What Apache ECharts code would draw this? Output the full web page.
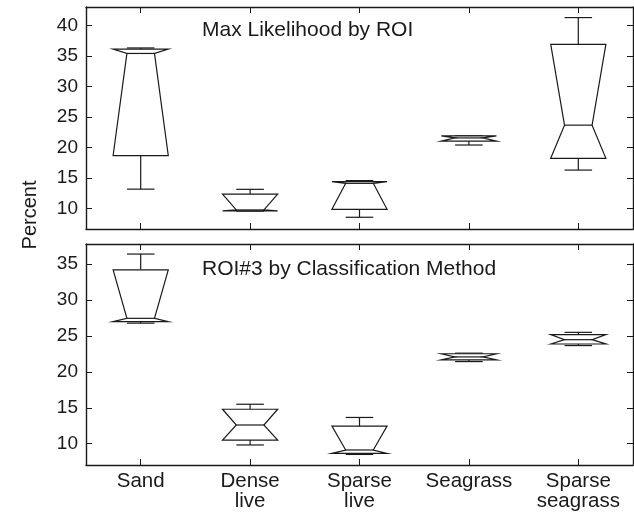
<!DOCTYPE html>
<html><head><meta charset="utf-8">
<script src="https://cdn.jsdelivr.net/npm/echarts@6/dist/echarts.min.js"></script>
<style>html,body{margin:0;padding:0;background:#fff}#c{width:634px;height:512px}</style>
</head><body><div id="c"></div>
<script>
const categories = ['Sand', 'Dense\nlive', 'Sparse\nlive', 'Seagrass', 'Sparse\nseagrass'];
const topTitle = 'Max Likelihood by ROI';
const bottomTitle = 'ROI#3 by Classification Method';
const yName = 'Percent';

// Top panel: Max Likelihood by ROI
const topLowerWhisker = [13.2, 9.6, 8.6, 20.42, 16.32];
const topQ1           = [18.7, 9.65, 9.9, 21.07, 18.24];
const topMedian       = [35.4, 9.8, 14.15, 21.58, 23.67];
const topQ3           = [36.1, 12.4, 14.42, 21.92, 36.9];
const topUpperWhisker = [36.3, 13.17, 14.6, 21.95, 41.27];

// Bottom panel: ROI#3 by Classification Method
const botLowerWhisker = [26.78, 9.82, 8.5, 21.43, 23.66];
const botQ1           = [27.0, 10.5, 8.66, 21.68, 23.88];
const botMedian       = [27.45, 12.6, 9.12, 22.08, 24.48];
const botQ3           = [34.2, 14.79, 12.45, 22.52, 25.18];
const botUpperWhisker = [36.4, 15.49, 13.65, 22.6, 25.5];

const topTicks = [10, 15, 20, 25, 30, 35, 40];
const bottomTicks = [10, 15, 20, 25, 30, 35];

function rows(lw, q1, med, q3, uw) {
  return categories.map((c, i) => [i, lw[i], q1[i], med[i], q3[i], uw[i]]);
}

const INK = '#1a1a1a';
const FONT = 'Liberation Sans, Arial, Helvetica, sans-serif';

function renderBox(params, api) {
  const i = api.value(0);
  const lw = api.value(1), q1 = api.value(2), med = api.value(3), q3 = api.value(4), uw = api.value(5);
  const band = api.size([1, 0])[0];
  const half = band * 0.252;
  const x = api.coord([i, med])[0];
  const y = v => api.coord([i, v])[1];
  const yq1 = y(q1), ym = y(med), yq3 = y(q3), ylw = y(lw), yuw = y(uw);
  const st = { stroke: INK, lineWidth: 1.2, fill: null };
  const capH = half / 2;
  return {
    type: 'group',
    children: [
      { type: 'line', shape: { x1: x, y1: yq3, x2: x, y2: yuw }, style: st },
      { type: 'line', shape: { x1: x, y1: yq1, x2: x, y2: ylw }, style: st },
      { type: 'line', shape: { x1: x - capH, y1: yuw, x2: x + capH, y2: yuw }, style: st },
      { type: 'line', shape: { x1: x - capH, y1: ylw, x2: x + capH, y2: ylw }, style: st },
      { type: 'polygon', shape: { points: [
          [x - half, yq1], [x - half / 2, ym], [x - half, yq3],
          [x + half, yq3], [x + half / 2, ym], [x + half, yq1]] },
        style: { stroke: INK, lineWidth: 1.2, fill: '#fff' } },
      { type: 'line', shape: { x1: x - half / 2, y1: ym, x2: x + half / 2, y2: ym }, style: st }
    ]
  };
}

const axisLine = { show: true, lineStyle: { color: INK, width: 1.4 } };
const tick = { show: true, inside: true, length: 6, lineStyle: { color: INK, width: 1 } };
const labelStyle = { color: '#1a1a1a', fontFamily: FONT, fontSize: 19 };

function xAxisFor(gridIndex, position, showLabels) {
  return {
    type: 'category', gridIndex, position, data: categories,
    boundaryGap: true,
    axisLine, axisTick: Object.assign({ alignWithLabel: true, interval: 0 }, tick),
    axisLabel: Object.assign({}, labelStyle, { show: showLabels, interval: 0, margin: 6, lineHeight: 20, fontSize: 20.5 }),
    splitLine: { show: false }
  };
}
function yAxisFor(gridIndex, position, min, max, ticks, showLabels) {
  return {
    type: 'value', gridIndex, position, min, max,
    axisLine, axisTick: Object.assign({ customValues: ticks }, tick),
    axisLabel: Object.assign({ show: showLabels, customValues: ticks, margin: 8 }, labelStyle),
    splitLine: { show: false }
  };
}

const titleStyle = { fontFamily: FONT, fontSize: 21, fontWeight: 'normal', color: '#1a1a1a' };

const chart = echarts.init(document.getElementById('c'));
chart.setOption({
  backgroundColor: '#fff',
  animation: false,
  grid: [
    { left: 86, right: 1, top: 7, height: 222 },
    { left: 86, right: 1, top: 244, height: 221 }
  ],
  xAxis: [
    xAxisFor(0, 'bottom', false),
    xAxisFor(0, 'top', false),
    xAxisFor(1, 'bottom', true),
    xAxisFor(1, 'top', false)
  ],
  yAxis: [
    yAxisFor(0, 'left', 6.68, 43, topTicks, true),
    yAxisFor(0, 'right', 6.68, 43, topTicks, false),
    yAxisFor(1, 'left', 7.03, 37.8, bottomTicks, true),
    yAxisFor(1, 'right', 7.03, 37.8, bottomTicks, false)
  ],
  title: [
    { text: topTitle, left: 202, top: 20, textStyle: titleStyle, padding: 0 },
    { text: bottomTitle, left: 202, top: 259, textStyle: titleStyle, padding: 0 }
  ],
  graphic: [
    { type: 'text', x: 20, y: 215, rotation: Math.PI / 2,
      style: { text: yName, fontFamily: FONT, fontSize: 20, fill: '#1a1a1a', textAlign: 'center', textVerticalAlign: 'top' } }
  ],
  series: [
    { type: 'custom', xAxisIndex: 0, yAxisIndex: 0, renderItem: renderBox,
      data: rows(topLowerWhisker, topQ1, topMedian, topQ3, topUpperWhisker), clip: false },
    { type: 'custom', xAxisIndex: 2, yAxisIndex: 2, renderItem: renderBox,
      data: rows(botLowerWhisker, botQ1, botMedian, botQ3, botUpperWhisker), clip: false }
  ]
});
</script></body></html>
